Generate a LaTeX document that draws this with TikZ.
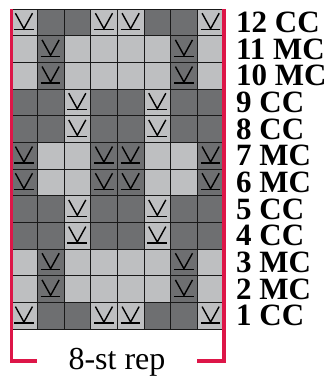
\documentclass[tikz,border=0pt]{standalone}
\usepackage{fontspec}
\setmainfont{Liberation Serif}
\usepackage{xcolor}
\usetikzlibrary{positioning}
\definecolor{ccgrey}{RGB}{110,111,113}
\definecolor{mcgrey}{RGB}{190,191,193}
\definecolor{repred}{RGB}{221,22,72}
\newcommand{\cw}{26.67}

\begin{document}
\begin{tikzpicture}[x=1pt, y=-1pt,
  cell/.style={draw=black!90, line width=0.8pt},
  slip/.style={black, line width=1.4pt},
  rowlab/.style={anchor=west, inner sep=0pt, font=\fontsize{31}{31}\selectfont\bfseries},
  replab/.style={anchor=base, inner sep=0pt, font=\fontsize{32}{32}\selectfont},
  bracket/.style={repred, line width=3.6pt}]
\useasboundingbox (0,0) rectangle (334,381);
% rows: number/colour/ground/slipped/pattern (1 = slipped stitch)
\foreach \r/\lab/\bg/\fg/\pat in {
  1/CC/ccgrey/mcgrey/{1,0,0,1,1,0,0,1},
  2/MC/mcgrey/ccgrey/{0,1,0,0,0,0,1,0},
  3/MC/mcgrey/ccgrey/{0,1,0,0,0,0,1,0},
  4/CC/ccgrey/mcgrey/{0,0,1,0,0,1,0,0},
  5/CC/ccgrey/mcgrey/{0,0,1,0,0,1,0,0},
  6/MC/mcgrey/ccgrey/{1,0,0,1,1,0,0,1},
  7/MC/mcgrey/ccgrey/{1,0,0,1,1,0,0,1},
  8/CC/ccgrey/mcgrey/{0,0,1,0,0,1,0,0},
  9/CC/ccgrey/mcgrey/{0,0,1,0,0,1,0,0},
  10/MC/mcgrey/ccgrey/{0,1,0,0,0,0,1,0},
  11/MC/mcgrey/ccgrey/{0,1,0,0,0,0,1,0},
  12/CC/ccgrey/mcgrey/{1,0,0,1,1,0,0,1}} {
  \pgfmathsetmacro{\y}{329-\r*\cw}
  \foreach \s [count=\i] in \pat {
    \pgfmathsetmacro{\x}{10.6+(\i-1)*\cw}
    \ifnum\s=1
      \filldraw[cell, fill=\fg] (\x,\y) rectangle ++(\cw,\cw);
      \draw[slip] (\x+0.18*\cw,\y+0.16*\cw) -- (\x+0.5*\cw,\y+0.74*\cw) -- (\x+0.82*\cw,\y+0.16*\cw);
      \draw[slip] (\x+0.13*\cw,\y+0.78*\cw) -- (\x+0.87*\cw,\y+0.78*\cw);
    \else
      \filldraw[cell, fill=\bg] (\x,\y) rectangle ++(\cw,\cw);
    \fi
  }
  \node[rowlab] (lab\r) at (236,\y+0.5*\cw) {\r\ \lab};
}
% repeat bracket
\coordinate (lt) at (11.3,9);
\coordinate (lb) at (11.3,361);
\coordinate (rt) at (223.7,9);
\coordinate (rb) at (223.7,361);
\node[replab] (rep) at (117,369) {8-st rep};
\draw[bracket] (lt) -- (lb) -- ++(26,0);
\draw[bracket] (rt) -- (rb) -- ++(-27,0);
\end{tikzpicture}
\end{document}
